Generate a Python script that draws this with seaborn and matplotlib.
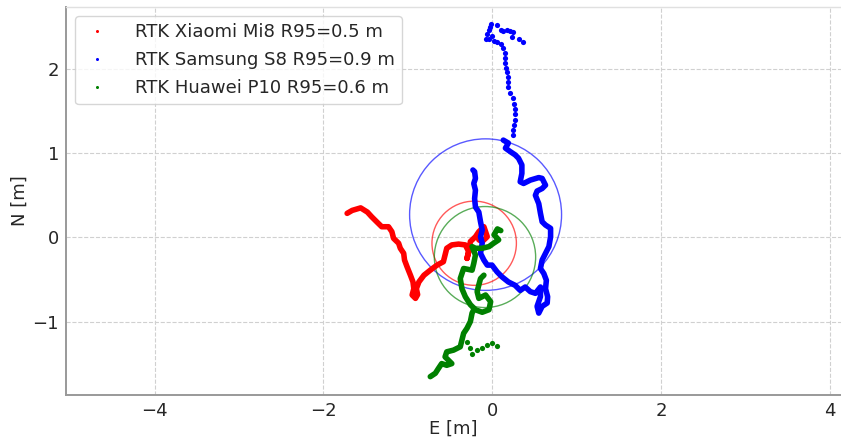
import matplotlib
matplotlib.use("Agg")
import matplotlib.pyplot as plt
from matplotlib.lines import Line2D
from matplotlib.patches import Circle
import seaborn as sns

# ---- trajectories (East / North, metres) ----
red_e = [-1.72, -1.66, -1.56, -1.48, -1.43, -1.37, -1.31, -1.23, -1.19, -1.17, -1.11, -1.09,
         -1.05, -1.04, -1.01, -0.97, -0.94, -0.93, -0.95, -0.91, -0.885, -0.90, -0.87, -0.81,
         -0.735, -0.655, -0.58, -0.56, -0.54, -0.48, -0.40, -0.32, -0.28, -0.30, -0.28, -0.26,
         -0.20, -0.16, -0.10, -0.08, -0.06, -0.12, -0.16]
red_n = [0.285, 0.32, 0.35, 0.30, 0.245, 0.185, 0.126, 0.126, 0.067, -0.012, -0.07, -0.13,
         -0.19, -0.27, -0.35, -0.45, -0.53, -0.61, -0.685, -0.725, -0.68, -0.61, -0.53, -0.45,
         -0.39, -0.33, -0.29, -0.21, -0.13, -0.09, -0.08, -0.09, -0.17, -0.25, -0.17, -0.05,
         0.007, 0.067, 0.126, 0.067, 0.007, -0.05, -0.03]

blue_sparse_e = [-0.015, -0.03, -0.04, -0.06, -0.07, -0.04, -0.004, 0.024, 0.06, 0.10, 0.13,
                 0.17, 0.21, 0.245, 0.23, 0.31, 0.36, 0.06, 0.10, 0.13, 0.15, 0.15, 0.15, 0.165,
                 0.17, 0.18, 0.19, 0.19, 0.21, 0.245, 0.26, 0.27, 0.265, 0.27, 0.26, 0.25, 0.245]
blue_sparse_n = [2.53, 2.50, 2.46, 2.42, 2.36, 2.355, 2.39, 2.33, 2.52, 2.46, 2.45,
                 2.46, 2.45, 2.435, 2.38, 2.36, 2.32, 2.32, 2.30, 2.245, 2.185, 2.125, 2.07, 2.01,
                 1.96, 1.91, 1.85, 1.79, 1.71, 1.65, 1.59, 1.53, 1.47, 1.39, 1.335, 1.27, 1.215]

blue_e = [0.13, 0.19, 0.155, 0.21, 0.27, 0.31, 0.35, 0.35, 0.33, 0.37, 0.45, 0.55, 0.59, 0.63,
          0.59, 0.53, 0.51, 0.55, 0.57, 0.59, 0.63, 0.69, 0.69, 0.67, 0.63, 0.59, 0.57, 0.61,
          0.64, 0.63, 0.655, 0.65, 0.59, 0.55, 0.53, 0.57, 0.57, 0.51, 0.45, 0.39, 0.33, 0.27,
          0.19, 0.115, 0.056, -0.004, -0.06, -0.10, -0.14, -0.12, -0.14, -0.12, -0.14, -0.16,
          -0.20, -0.21, -0.20, -0.22, -0.20, -0.21, -0.23]
blue_n = [1.155, 1.12, 1.06, 1.02, 0.98, 0.94, 0.86, 0.76, 0.66, 0.64, 0.68, 0.71, 0.70, 0.62,
          0.58, 0.55, 0.50, 0.40, 0.285, 0.185, 0.146, 0.107, 0.007, -0.11, -0.19, -0.27, -0.37,
          -0.43, -0.51, -0.61, -0.705, -0.78, -0.82, -0.90, -0.82, -0.705, -0.59, -0.665, -0.645,
          -0.59, -0.63, -0.57, -0.53, -0.47, -0.41, -0.33, -0.33, -0.27, -0.19, -0.07, 0.007,
          0.087, 0.185, 0.30, 0.36, 0.46, 0.56, 0.64, 0.70, 0.78, 0.80]

green_e = [0.10, 0.06, 0.02, 0.075, 0.015, -0.04, -0.12, -0.20, -0.24, -0.20, -0.22, -0.24,
           -0.34, -0.38, -0.36, -0.32, -0.26, -0.20, -0.12, -0.04, -0.02, -0.08, -0.16, -0.18,
           -0.16, -0.14, -0.10]
green_n = [0.08, 0.10, 0.03, -0.03, -0.07, -0.11, -0.13, -0.13, -0.11, -0.21, -0.31, -0.39,
           -0.37, -0.49, -0.61, -0.705, -0.80, -0.86, -0.89, -0.86, -0.765, -0.685, -0.725, -0.645,
           -0.565, -0.49, -0.45]

green_tail_e = [-0.22, -0.24, -0.26, -0.30, -0.34, -0.36, -0.38, -0.46, -0.54, -0.56, -0.52,
                -0.48, -0.54, -0.60, -0.64, -0.675, -0.735]
green_tail_n = [-0.86, -0.90, -1.00, -1.08, -1.14, -1.22, -1.30, -1.34, -1.36, -1.42, -1.46,
                -1.50, -1.52, -1.50, -1.56, -1.615, -1.655]

green_sparse_e = [-0.30, -0.27, -0.24, -0.18, -0.12, -0.06, 0.0, 0.055]
green_sparse_n = [-1.24, -1.32, -1.38, -1.34, -1.32, -1.28, -1.26, -1.29]

# ---- R95 circles ----
labels = ["RTK Xiaomi Mi8 R95=0.5 m", "RTK Samsung S8 R95=0.9 m", "RTK Huawei P10 R95=0.6 m"]
colors = ["red", "blue", "green"]
r95 = [0.5, 0.9, 0.6]
center_e = [-0.215, -0.08, -0.087]
center_n = [-0.07, 0.27, -0.234]

sns.set_style("whitegrid", {"grid.linestyle": "--", "grid.color": "#d0d0d0"})
plt.rcParams["font.family"] = ["DejaVu Sans"]

fig = plt.figure(figsize=(8.41, 4.4), dpi=100)
ax = fig.add_axes([66 / 841, 1 - 395 / 440, 1 - 66 / 841, (395 - 6.7) / 440])

for cx, cy, r, c in zip(center_e, center_n, r95, colors):
    ax.add_patch(Circle((cx, cy), r, fill=False, edgecolor=c, lw=1.0, alpha=0.65, zorder=2))

path_kw = dict(sort=False, estimator=None, lw=4.0, ax=ax, legend=False,
               solid_capstyle="round", solid_joinstyle="round", zorder=3)
dot_kw = dict(s=14, linewidth=0, ax=ax, legend=False, zorder=3)

sns.lineplot(x=red_e, y=red_n, color="red", **path_kw)
sns.lineplot(x=blue_e, y=blue_n, color="blue", **path_kw)
sns.scatterplot(x=blue_sparse_e, y=blue_sparse_n, color="blue", **dot_kw)
sns.lineplot(x=green_e, y=green_n, color="green", **path_kw)
sns.lineplot(x=green_tail_e, y=green_tail_n, color="green", **path_kw)
sns.scatterplot(x=green_sparse_e, y=green_sparse_n, color="green", **dot_kw)

ax.set_xlim(-5.05, 4.13)
ax.set_ylim(-1.873, 2.74)
ax.set_xticks([-4, -2, 0, 2, 4])
ax.set_yticks([-1, 0, 1, 2])
ax.tick_params(labelsize=13, length=0, pad=5)
ax.set_xlabel("E [m]", fontsize=13, labelpad=0)
ax.set_ylabel("N [m]", fontsize=13, labelpad=3)

for side in ["left", "bottom"]:
    ax.spines[side].set_color("#999999")
    ax.spines[side].set_linewidth(1.4)
ax.spines["top"].set_color("#e0e0e0")
ax.spines["top"].set_linewidth(1.0)
ax.spines["right"].set_visible(False)

handles = [Line2D([], [], marker="o", ls="", ms=2.2, color=c, markeredgewidth=0) for c in colors]
ax.legend(handles, labels, loc="upper left", fontsize=13, frameon=True,
          bbox_to_anchor=(0.012, 0.976), handletextpad=1.3, borderpad=0.4,
          labelspacing=0.55, handlelength=1.6, borderaxespad=0)

fig.savefig("out.png", dpi=100)
